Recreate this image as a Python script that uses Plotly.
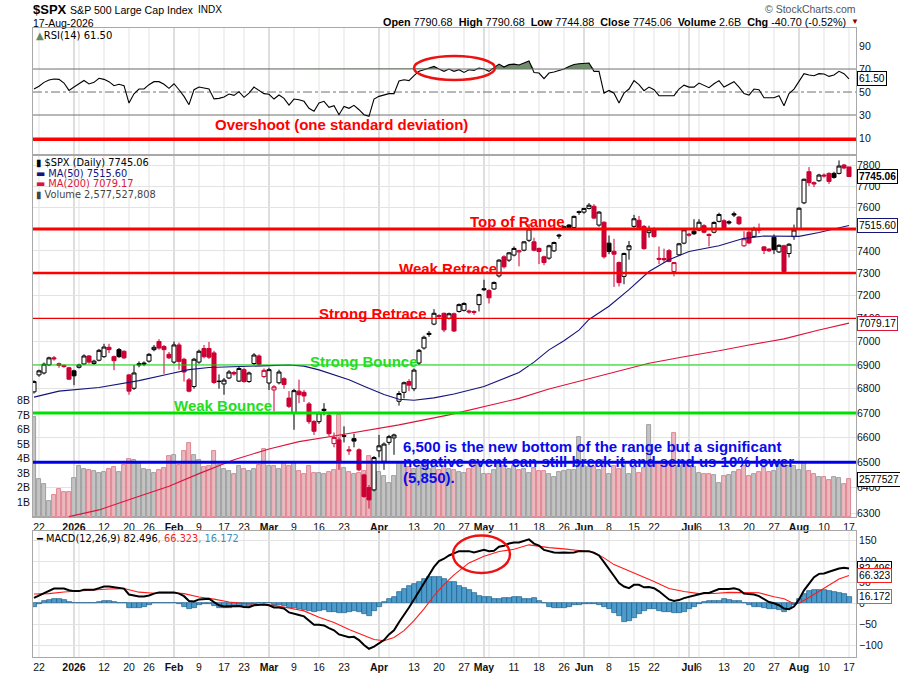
import math
import pandas as pd
import plotly.graph_objects as go

# ---------------- data ----------------
HOLIDAYS = ["2025-12-25", "2026-01-01", "2026-01-19", "2026-02-16",
            "2026-04-03", "2026-05-25", "2026-06-19", "2026-07-03"]
DATES = [d.strftime("%Y-%m-%d") for d in pd.bdate_range("2025-12-19", "2026-08-17")
         if d.strftime("%Y-%m-%d") not in HOLIDAYS]

OPEN = [6787, 6858, 6866, 6900, 6930, 6905, 6898, 6888, 6875, 6890,
        6904, 6938, 6906, 6920, 6935, 6975, 6935, 6965, 6958, 6858,
        6802, 6905, 6908, 6916, 6965, 7000, 6978, 6945, 6912, 6985,
        6924, 6837, 6809, 6912, 6970, 6970, 6951, 6832, 6820, 6845,
        6868, 6832, 6880, 6830, 6906, 6938, 6851, 6824, 6795, 6825,
        6842, 6761, 6700, 6790, 6785, 6737, 6665, 6664, 6715, 6690,
        6575, 6590, 6608, 6550, 6595, 6550, 6450, 6400, 6391, 6546,
        6504, 6580, 6598, 6748, 6785, 6830, 6800, 6908, 6972, 7035,
        7075, 7112, 7122, 7100, 7120, 7130, 7135, 7132, 7130, 7160,
        7230, 7222, 7229, 7287, 7373, 7358, 7381, 7395, 7403, 7448,
        7441, 7411, 7373, 7367, 7400, 7472, 7510, 7518, 7507, 7580,
        7578, 7595, 7605, 7518, 7531, 7435, 7398, 7347, 7285, 7405,
        7512, 7540, 7512, 7483, 7502, 7366, 7365, 7401, 7307, 7382,
        7435, 7476, 7490, 7495, 7515, 7475, 7485, 7535, 7538, 7533,
        7570, 7555, 7423, 7485, 7466, 7500, 7418, 7408, 7462, 7395,
        7423, 7388, 7465, 7500, 7621, 7768, 7716, 7725, 7752, 7760,
        7760, 7760, 7800, 7790.68]
HIGH = [6835, 6880, 6910, 6935, 6938, 6910, 6902, 6892, 6880, 6905,
        6945, 6942, 6922, 6968, 6990, 6990, 6940, 6972, 6962, 6862,
        6900, 6915, 6915, 6950, 6985, 7010, 6985, 6955, 7000, 6995,
        6930, 6845, 6930, 6965, 6985, 6998, 6960, 6860, 6845, 6878,
        6875, 6892, 6888, 6872, 6950, 6945, 6885, 6888, 6815, 6880,
        6848, 6790, 6800, 6838, 6795, 6745, 6670, 6705, 6740, 6700,
        6620, 6600, 6645, 6565, 6615, 6556, 6455, 6410, 6525, 6610,
        6580, 6610, 6615, 6790, 6830, 6840, 6885, 6968, 7025, 7045,
        7140, 7118, 7125, 7125, 7125, 7165, 7170, 7138, 7135, 7208,
        7270, 7228, 7262, 7362, 7380, 7395, 7420, 7405, 7445, 7522,
        7460, 7415, 7378, 7428, 7442, 7478, 7515, 7522, 7562, 7585,
        7598, 7620, 7615, 7582, 7535, 7470, 7455, 7352, 7392, 7445,
        7565, 7560, 7518, 7515, 7508, 7420, 7410, 7408, 7350, 7436,
        7500, 7482, 7545, 7545, 7522, 7480, 7535, 7575, 7545, 7540,
        7580, 7560, 7490, 7492, 7510, 7525, 7422, 7412, 7475, 7430,
        7428, 7435, 7520, 7600, 7735, 7790, 7722, 7758, 7760, 7765,
        7768, 7822, 7805, 7790.68]
LOW = [6780, 6850, 6860, 6895, 6918, 6888, 6888, 6836, 6815, 6885,
       6900, 6905, 6900, 6915, 6930, 6950, 6878, 6930, 6925, 6775,
       6795, 6890, 6895, 6910, 6958, 6965, 6862, 6925, 6905, 6880,
       6830, 6785, 6800, 6905, 6928, 6925, 6820, 6800, 6775, 6840,
       6855, 6828, 6825, 6825, 6898, 6895, 6845, 6795, 6706, 6818,
       6800, 6720, 6631, 6740, 6745, 6655, 6610, 6655, 6690, 6605,
       6560, 6470, 6580, 6530, 6560, 6465, 6360, 6318, 6385, 6520,
       6470, 6570, 6530, 6730, 6760, 6790, 6790, 6900, 6965, 7020,
       7070, 7100, 7040, 7095, 7040, 7125, 7130, 7120, 7115, 7130,
       7220, 7165, 7225, 7280, 7320, 7350, 7375, 7330, 7398, 7440,
       7398, 7340, 7335, 7360, 7395, 7455, 7500, 7500, 7500, 7565,
       7570, 7590, 7545, 7510, 7365, 7385, 7238, 7240, 7250, 7360,
       7505, 7500, 7405, 7460, 7460, 7340, 7345, 7348, 7285, 7378,
       7430, 7465, 7472, 7490, 7480, 7420, 7480, 7530, 7495, 7520,
       7555, 7518, 7418, 7430, 7460, 7480, 7385, 7395, 7385, 7390,
       7305, 7370, 7450, 7495, 7615, 7700, 7695, 7720, 7740, 7710,
       7735, 7755, 7780, 7744.88]
CLOSE = [6830, 6875, 6903, 6930, 6926, 6898, 6893, 6840, 6854, 6900,
         6938, 6912, 6916, 6962, 6976, 6965, 6918, 6935, 6930, 6790,
         6866, 6900, 6904, 6945, 6975, 6972, 6965, 6930, 6985, 6915,
         6870, 6790, 6924, 6958, 6935, 6933, 6826, 6830, 6836, 6870,
         6862, 6885, 6830, 6866, 6942, 6902, 6877, 6880, 6808, 6870,
         6818, 6727, 6792, 6775, 6770, 6664, 6625, 6700, 6710, 6615,
         6600, 6500, 6605, 6546, 6585, 6470, 6365, 6352, 6519, 6566,
         6573, 6603, 6610, 6780, 6825, 6815, 6878, 6962, 7018, 7030,
         7122, 7108, 7050, 7120, 7045, 7160, 7165, 7128, 7126, 7204,
         7226, 7190, 7258, 7358, 7328, 7391, 7411, 7400, 7441, 7500,
         7403, 7397, 7347, 7423, 7438, 7468, 7505, 7507, 7558, 7576,
         7595, 7610, 7550, 7578, 7373, 7397, 7385, 7257, 7388, 7423,
         7547, 7505, 7410, 7496, 7465, 7362, 7360, 7352, 7347, 7432,
         7496, 7472, 7478, 7531, 7485, 7470, 7530, 7567, 7502, 7528,
         7565, 7524, 7455, 7436, 7500, 7495, 7402, 7400, 7405, 7425,
         7307, 7430, 7495, 7596, 7732, 7716, 7710, 7752, 7748, 7722,
         7741, 7795, 7785.76, 7745.06]
VOLUME_B = [6.85, 2.6, 2.28, 1.12, 1.53, 1.92, 1.71, 1.71, 2.67, 3.47,
            3.3, 3.25, 3.15, 3.03, 3.07, 3.3, 3.42, 3.07, 3.58, 3.97,
            3.92, 3.74, 3.3, 3.2, 3.03, 3.25, 3.35, 4.15, 4.27, 3.58,
            4.5, 5.07, 4.27, 3.92, 3.42, 3.47, 4.5, 3.58, 3.3, 3.15,
            2.97, 3.47, 3.3, 3.15, 3.3, 3.58, 4.65, 3.47, 3.51, 3.3,
            3.7, 3.51, 3.7, 3.15, 2.97, 3.51, 3.03, 3.03, 2.97, 3.07,
            3.25, 7.0, 3.35, 3.07, 2.97, 3.03, 3.15, 4.15, 3.7, 3.07,
            2.8, 2.33, 2.8, 3.8, 3.8, 3.4, 3.3, 3.5, 3.6, 3.3,
            3.4, 3.2, 3.5, 3.3, 3.2, 3.07, 3.03, 3.3, 3.92, 3.58,
            2.93, 2.97, 3.25, 3.7, 3.47, 3.3, 3.47, 3.25, 3.3, 3.03,
            3.35, 3.15, 3.15, 2.97, 2.74, 3.07, 3.15, 3.2, 3.25, 5.48,
            3.47, 3.42, 3.42, 3.25, 3.92, 2.97, 3.51, 3.3, 3.8, 2.97,
            3.35, 3.03, 3.35, 6.32, 3.8, 3.7, 3.74, 3.8, 5.75, 3.51,
            3.74, 3.47, 3.42, 3.03, 2.97, 2.93, 2.86, 2.33, 2.8, 2.86,
            3.07, 3.2, 3.47, 2.8, 2.93, 3.07, 3.35, 3.07, 3.15, 3.7,
            3.74, 3.51, 3.47, 3.25, 3.8, 3.15, 2.97, 2.74, 2.74, 2.56,
            2.74, 2.67, 2.28, 2.577527808]
RSI14 = [52.6, 55, 58.4, 60.5, 61.3, 61, 57.8, 51.4, 54.3, 57,
         60, 57, 58.4, 62, 61, 59, 55.5, 56.7, 55.5, 40.4,
         48.5, 52.6, 52.6, 56.4, 59, 59, 56.7, 53.2, 57.2, 52,
         46.2, 39, 52, 54.3, 53.5, 52.6, 44, 44.5, 45.7, 48.3,
         47.1, 50.3, 45.4, 49.1, 54.3, 51.2, 48.6, 48, 43.9, 47.4,
         44.5, 38.7, 43.9, 43.3, 41.9, 35.8, 33.2, 40.4, 41.9, 36.7,
         38.1, 30.3, 37.5, 35.8, 38.4, 34.6, 30.3, 28.8, 43.9, 46.2,
         47.1, 48.6, 48.6, 59.6, 60.7, 59.9, 64.2, 68, 69.4, 70.6,
         72.3, 70, 68, 70, 68, 69.4, 67, 69.4, 68.8, 70.9,
         70, 68, 70.9, 74.3, 71.7, 73.8, 74.3, 73.5, 75.2, 77,
         67, 66.5, 61.6, 66.5, 67.4, 68.8, 70, 72.3, 74, 74.6,
         74.6, 75.2, 68, 68, 49, 51.4, 49, 40.4, 49, 52.6,
         59.9, 56.4, 51.2, 54.3, 52, 46.8, 46.8, 46.8, 46.8, 52.6,
         56, 54.3, 54.3, 57.8, 55.5, 53.8, 57.2, 59.9, 54.3, 56.4,
         59, 54.3, 48.6, 47.4, 52.6, 52, 45, 45, 45, 46.8,
         38.1, 48.6, 52.6, 59.3, 66, 64.8, 64.2, 66, 65.7, 63.6,
         64.8, 68, 66, 61.5]
MACD_LINE = [13, 18.5, 23, 30, 35, 35, 35, 31, 29, 29,
             32.5, 32.5, 32.5, 36, 40, 40, 38, 36, 35, 21,
             18, 16, 16, 18.5, 23, 26, 26, 26, 26, 23,
             17, 5.4, 4.6, 9.3, 9.3, 11, 3, -4.6, -7.7, -7.7,
             -7.7, -6.2, -8.5, -9.3, -4.6, -3, -3, -4.6, -10, -10,
             -12.4, -21.7, -24, -27.8, -31, -41, -51, -51, -52.6, -58.8,
             -64, -74, -77, -80.4, -79.7, -87.4, -99, -108, -103, -95,
             -87.4, -74, -64, -45, -28, -10, 9.3, 28.6, 48, 67,
             86.6, 100.5, 106, 113.7, 119, 124, 124, 124, 121, 124,
             127, 124, 125, 134.6, 137, 142, 144.6, 144.6, 148.5, 152,
             142, 137, 127, 124, 121, 120, 121, 120, 121, 124,
             124, 124, 120, 113.7, 98, 80, 65, 48, 40, 36,
             44, 44, 38, 38.7, 36, 28.6, 18.6, 9.3, 5.4, 7.7,
             12.4, 15.5, 18.6, 23, 24.7, 24.7, 28.6, 34, 34, 34,
             36, 32.5, 23, 21.7, 21, 17, 9.3, 3, 0, -4.6,
             -12.4, -14, -7.7, 9.3, 31, 48, 62, 70, 71, 75,
             79, 82.8, 84.3, 82.496]
MACD_HIST = [-8, -2, 5, 8.5, 9.3, 9.3, 8.5, 3, 0, 0,
             1.5, 1.5, 1.5, 3, 6, 6, 3, 1.5, 0, -10,
             -12, -10, -8, -4.6, 0, 1.5, 1.5, 0, 1.5, -2,
             -8, -14, -10, -4.6, -1.5, -1.5, -6, -10, -12, -10,
             -8, -6, -8, -8, -2, 1.5, 1.5, 0, -4.6, -3,
             -6, -10, -12, -14, -15.5, -17.8, -20, -18.6, -17, -20,
             -21.7, -24, -23, -20, -18.6, -20, -25.5, -29.4, -17.8, -8,
             3, 9.3, 15.5, 26, 34, 40, 46.4, 51.8, 57, 62,
             63.4, 62, 58.8, 51.8, 51, 40, 36, 32.5, 24.7, 17,
             15.5, 15.5, 11, 9.3, 13, 13, 15.5, 15.5, 11, 11,
             12.4, 6, 0, -8, -10, -10, -10, -8, -4.6, -3,
             -2.3, -1.5, -1.5, -3, -8, -14, -24, -31, -45, -41,
             -35.6, -25.5, -17.8, -14, -14, -17.8, -20, -21.7, -24, -24,
             -20, -14, -8, -2.3, 3, 4.6, 4.6, 6, 9.3, 7.7,
             6, 6, 1.5, -4.6, -8, -8, -10, -12.4, -14, -15.5,
             -21.7, -14, -4.6, 9.3, 23, 28.6, 31, 32.5, 32.5, 28.6,
             26, 24.7, 21, 16.172]
SIGNAL_DATES = ["2025-12-19", "2025-12-24", "2025-12-30", "2026-01-05", "2026-01-08", "2026-01-13",
                "2026-01-16", "2026-01-22", "2026-01-27", "2026-01-30", "2026-02-04", "2026-02-09",
                "2026-02-12", "2026-02-18", "2026-02-23", "2026-02-26", "2026-03-03", "2026-03-06",
                "2026-03-11", "2026-03-16", "2026-03-19", "2026-03-24", "2026-03-27", "2026-03-31",
                "2026-04-02", "2026-04-07", "2026-04-09", "2026-04-13", "2026-04-15", "2026-04-17",
                "2026-04-21", "2026-04-23", "2026-04-28", "2026-05-01", "2026-05-06", "2026-05-11",
                "2026-05-14", "2026-05-18", "2026-05-20", "2026-05-26", "2026-05-29", "2026-06-03",
                "2026-06-05", "2026-06-09", "2026-06-11", "2026-06-16", "2026-06-22", "2026-06-25",
                "2026-06-30", "2026-07-06", "2026-07-09", "2026-07-14", "2026-07-17", "2026-07-22",
                "2026-07-27", "2026-07-29", "2026-07-31", "2026-08-03", "2026-08-05", "2026-08-10",
                "2026-08-13", "2026-08-17"]
SIGNAL = [22, 23, 27, 29.5, 31, 34, 35, 26.5, 24, 25.5, 23, 15,
          10, 3, -0.3, -3.5, -5, -11, -18, -33, -45.5, -62, -76, -86,
          -89, -81, -65, -41, -13, 18, 45, 67.5, 96, 112, 123, 128.5,
          139, 135, 132.5, 129.5, 126, 121.5, 108, 92, 82, 67, 52, 35,
          28, 23, 23.5, 26, 26, 25, 15.5, 11, -1, 0, 14, 36,
          58, 66.323]
MA50_DATES = ["2025-12-19", "2025-12-29", "2026-01-09", "2026-01-22", "2026-01-30", "2026-02-05",
              "2026-02-11", "2026-02-19", "2026-03-02", "2026-03-06", "2026-03-11", "2026-03-16",
              "2026-03-19", "2026-03-24", "2026-03-27", "2026-04-02", "2026-04-08", "2026-04-13",
              "2026-04-17", "2026-04-23", "2026-05-01", "2026-05-12", "2026-05-15", "2026-05-20",
              "2026-05-26", "2026-05-29", "2026-06-02", "2026-06-08", "2026-06-12", "2026-06-18",
              "2026-06-25", "2026-07-01", "2026-07-10", "2026-07-17", "2026-07-23", "2026-07-29",
              "2026-08-03", "2026-08-07", "2026-08-12", "2026-08-17"]
MA50 = [6765, 6790, 6805, 6834, 6862, 6880, 6889, 6891, 6897, 6900, 6895, 6879,
        6860, 6838, 6810, 6776, 6756, 6752, 6762, 6778, 6809, 6868, 6912, 6964,
        7003, 7049, 7095, 7153, 7226, 7307, 7360, 7397, 7423, 7457, 7468, 7465,
        7466, 7484, 7500, 7515.60]
MA200_DATES = ["2025-12-31", "2026-01-09", "2026-01-21", "2026-01-30", "2026-02-09", "2026-02-19",
               "2026-03-02", "2026-03-10", "2026-03-19", "2026-03-30", "2026-04-08", "2026-04-22",
               "2026-05-01", "2026-05-12", "2026-05-20", "2026-06-01", "2026-06-10", "2026-06-18",
               "2026-06-30", "2026-07-10", "2026-07-20", "2026-07-29", "2026-08-07", "2026-08-17"]
MA200 = [6287, 6313, 6359, 6405, 6455, 6510, 6553, 6583, 6606, 6631, 6651, 6692,
         6727, 6760, 6799, 6837, 6872, 6907, 6935, 6960, 6985, 7011, 7049, 7079.17]

LEVELS = [7500, 7300, 7100, 6900, 6700, 6500]
PRICE_TICKS = [6300, 6400, 6500, 6600, 6700, 6800, 6900, 7000, 7100, 7200, 7300, 7400, 7500, 7600, 7700, 7800]
PRICE_TICK_TEXT = ["6300", "6400", "6500", "6600", "6700", "6800", "6900", "7000",
                   "7100", "7200", "7300", "7400", "7500", "7600", "7700", "7800"]
VOL_TICKS = [1e9, 2e9, 3e9, 4e9, 5e9, 6e9, 7e9, 8e9]
VOL_TICK_TEXT = ["1B", "2B", "3B", "4B", "5B", "6B", "7B", "8B"]
RSI_TICKS = [10, 30, 50, 70, 90]
MACD_TICKS = [-100, -50, 0, 50, 100, 150]
X_TICK_DATES = ["2025-12-22", "2026-01-02", "2026-01-05", "2026-01-12", "2026-01-20", "2026-01-26",
                "2026-02-02", "2026-02-09", "2026-02-17", "2026-02-23", "2026-03-02", "2026-03-09",
                "2026-03-16", "2026-03-23", "2026-04-01", "2026-04-06", "2026-04-13", "2026-04-20",
                "2026-04-27", "2026-05-01", "2026-05-04", "2026-05-11", "2026-05-18", "2026-05-26",
                "2026-06-01", "2026-06-08", "2026-06-15", "2026-06-22", "2026-06-29", "2026-07-01",
                "2026-07-06", "2026-07-13", "2026-07-20", "2026-07-27", "2026-08-03", "2026-08-10",
                "2026-08-17"]
X_TICK_TEXT = ["22", "<b>2026</b>", "", "12", "20", "26", "<b>Feb</b>", "9", "17", "23", "<b>Mar</b>", "9",
               "16", "23", "<b>Apr</b>", "", "13", "20", "27", "<b>May</b>", "", "11", "18", "26",
               "<b>Jun</b>", "8", "15", "22", "", "<b>Jul</b>", "6", "13", "20", "27", "<b>Aug</b>", "10",
               "17"]
MONTH_DATES = ["2026-01-02", "2026-02-02", "2026-03-02", "2026-04-01",
               "2026-05-01", "2026-06-01", "2026-07-01", "2026-08-03"]

N = len(DATES)
assert all(len(a) == N for a in (OPEN, HIGH, LOW, CLOSE, VOLUME_B, RSI14, MACD_LINE, MACD_HIST))

# ---------------- layout helpers ----------------
W, H = 900, 673
ML, MR, MT, MB = 33, 44, 28, 16
PW, PH = W - ML - MR, H - MT - MB


def fx(px):
    return (px - ML) / PW


def fy(py):
    return (MT + PH - py) / PH


AXF = "Liberation Sans, Arial, sans-serif"
LGF = "DejaVu Sans, Verdana, sans-serif"
GRID = "#e3e3e3"
BORDER = "#a8a8a8"
RED_C = "#cc0033"
NAVY = "#14147a"
CRIMSON = "#dc143c"

fig = go.Figure()

# ---- RSI panel ----
fig.add_trace(go.Scatter(x=DATES, y=[70] * N, mode="lines", line=dict(width=0, color="rgba(0,0,0,0)"),
                         xaxis="x", yaxis="y", hoverinfo="skip", showlegend=False))
fig.add_trace(go.Scatter(x=DATES, y=[max(v, 70) for v in RSI14], mode="lines",
                         line=dict(width=0, color="rgba(0,0,0,0)"), fill="tonexty",
                         fillcolor="#6f8f6a", xaxis="x", yaxis="y", hoverinfo="skip", showlegend=False))
fig.add_trace(go.Scatter(x=DATES, y=RSI14, mode="lines", line=dict(width=1.1, color="black"),
                         xaxis="x", yaxis="y", hoverinfo="skip", showlegend=False))

# ---- Volume (base axis of price panel) ----
vol_fill, vol_line = [], []
for i in range(N):
    down = i > 0 and CLOSE[i] < CLOSE[i - 1]
    vol_fill.append("#e9b9be" if down else "#c3c3c3")
    vol_line.append("#d9707f" if down else "#8e8e8e")
fig.add_trace(go.Bar(x=DATES, y=[v * 1e9 for v in VOLUME_B], width=0.82,
                     marker=dict(color=vol_fill, line=dict(color=vol_line, width=0.8)),
                     xaxis="x2", yaxis="y2", hoverinfo="skip", showlegend=False))

# ---- Candles ----
up_idx = [i for i in range(N) if i == 0 or CLOSE[i] >= CLOSE[i - 1]]
dn_idx = [i for i in range(N) if i > 0 and CLOSE[i] < CLOSE[i - 1]]


def sub(arr, idx):
    return [arr[i] for i in idx]


fig.add_trace(go.Candlestick(x=sub(DATES, up_idx), open=sub(OPEN, up_idx), high=sub(HIGH, up_idx),
                             low=sub(LOW, up_idx), close=sub(CLOSE, up_idx),
                             increasing=dict(line=dict(color="black", width=1), fillcolor="white"),
                             decreasing=dict(line=dict(color="black", width=1), fillcolor="black"),
                             xaxis="x2", yaxis="y3", hoverinfo="skip", showlegend=False))
fig.add_trace(go.Candlestick(x=sub(DATES, dn_idx), open=sub(OPEN, dn_idx), high=sub(HIGH, dn_idx),
                             low=sub(LOW, dn_idx), close=sub(CLOSE, dn_idx),
                             increasing=dict(line=dict(color=RED_C, width=1), fillcolor="white"),
                             decreasing=dict(line=dict(color=RED_C, width=1), fillcolor=RED_C),
                             xaxis="x2", yaxis="y3", hoverinfo="skip", showlegend=False))
fig.add_trace(go.Scatter(x=MA50_DATES, y=MA50, mode="lines", line=dict(color=NAVY, width=1.1),
                         xaxis="x2", yaxis="y3", hoverinfo="skip", showlegend=False))
fig.add_trace(go.Scatter(x=MA200_DATES, y=MA200, mode="lines", line=dict(color=CRIMSON, width=1.1),
                         xaxis="x2", yaxis="y3", hoverinfo="skip", showlegend=False))

# ---- MACD ----
fig.add_trace(go.Bar(x=DATES, y=MACD_HIST, width=1.0,
                     marker=dict(color="#4b9bcb", line=dict(color="#1f5f8b", width=0.7)),
                     xaxis="x3", yaxis="y4", hoverinfo="skip", showlegend=False))
fig.add_trace(go.Scatter(x=SIGNAL_DATES, y=SIGNAL, mode="lines", line=dict(color="#ff1a1a", width=1.1),
                         xaxis="x3", yaxis="y4", hoverinfo="skip", showlegend=False))
fig.add_trace(go.Scatter(x=DATES, y=MACD_LINE, mode="lines", line=dict(color="black", width=2),
                         xaxis="x3", yaxis="y4", hoverinfo="skip", showlegend=False))

# ---------------- axes ----------------
common_x = dict(type="category", categoryorder="array", categoryarray=DATES,
                range=[-0.2, N + 0.4], tickvals=X_TICK_DATES, ticktext=X_TICK_TEXT,
                showgrid=False, ticks="", showline=True, automargin=False,
                linecolor=BORDER, mirror=True, zeroline=False, fixedrange=True, tickangle=0,
                tickfont=dict(family=AXF, size=10.5, color="#111"))
yfont = dict(family=AXF, size=10.5, color="#111")
D_RSI = [fy(155), 1.0]
D_PRICE = [fy(517), fy(155)]
D_MACD = [0.0, fy(531)]

fig.update_layout(
    width=W, height=H, autosize=False,
    margin=dict(l=ML, r=MR, t=MT, b=MB, autoexpand=False),
    paper_bgcolor="white", plot_bgcolor="white",
    showlegend=False, hovermode=False, boxmode="overlay", boxgap=0.1, boxgroupgap=0.1, bargap=0,
    xaxis=dict(common_x, anchor="y", showticklabels=False),
    xaxis2=dict(common_x, anchor="y2", showticklabels=True, rangeslider=dict(visible=False)),
    xaxis3=dict(common_x, anchor="y4", showticklabels=True, rangeslider=dict(visible=False)),
    yaxis=dict(domain=D_RSI, range=[-4.8, 105.7], side="right", tickvals=RSI_TICKS,
               showgrid=False, zeroline=False, ticks="", showline=True, mirror=True, automargin=False,
               linecolor=BORDER, anchor="x", tickfont=yfont, fixedrange=True),
    yaxis2=dict(domain=D_PRICE, range=[0, 24.8e9], side="left", tickvals=VOL_TICKS,
                ticktext=VOL_TICK_TEXT, showgrid=False, zeroline=False, ticks="", automargin=False,
                showline=True, mirror=True, linecolor=BORDER, anchor="x2", tickfont=yfont,
                fixedrange=True),
    yaxis3=dict(overlaying="y2", side="right", type="log",
                range=[math.log10(6285.6), math.log10(7848)], tickvals=PRICE_TICKS,
                ticktext=PRICE_TICK_TEXT, showgrid=True, gridcolor=GRID, zeroline=False,
                ticks="", showline=False, anchor="x2", tickfont=yfont, fixedrange=True,
                automargin=False),
    yaxis4=dict(domain=D_MACD, range=[-127.6, 171.9], side="right", tickvals=MACD_TICKS,
                showgrid=True, gridcolor=GRID, zeroline=False, ticks="", showline=True,
                mirror=True, linecolor=BORDER, anchor="x3", tickfont=yfont, fixedrange=True,
                automargin=False),
)

# ---------------- shapes ----------------
shapes = []
panels = (("x", D_RSI), ("x2", D_PRICE), ("x3", D_MACD))
month_set = set(MONTH_DATES)
for d in sorted(set(X_TICK_DATES) | month_set):
    xi = DATES.index(d)
    col = "#bdbdbd" if d in month_set else GRID
    for xr, dom in panels:
        shapes.append(dict(type="line", xref=xr, yref="paper", x0=xi, x1=xi, y0=dom[0], y1=dom[1],
                           line=dict(color=col, width=1), layer="below"))
# RSI reference lines
for lvl, dash in ((70, "solid"), (30, "solid"), (50, "dashdot")):
    shapes.append(dict(type="line", xref="paper", yref="y", x0=0, x1=1, y0=lvl, y1=lvl,
                       line=dict(color="#707070", width=1, dash=dash),
                       layer="above" if lvl == 70 else "below"))
# Overshoot line
shapes.append(dict(type="line", xref="paper", yref="y", x0=0, x1=1, y0=8.9, y1=8.9,
                   line=dict(color="#ff0000", width=3.5)))
# Price levels
level_style = [("#ff0000", 3), ("#ff0000", 2.6), ("#ee0000", 1.1),
               ("#00e000", 1.1), ("#00e000", 3), ("#0000e6", 3)]
for lvl, (col, wd) in zip(LEVELS, level_style):
    shapes.append(dict(type="line", xref="paper", yref="y3", x0=0, x1=1, y0=lvl, y1=lvl,
                       line=dict(color=col, width=wd)))
# Ellipses
shapes.append(dict(type="circle", xref="x", yref="y", x0=76, x1=92.2, y0=60.4, y1=81.3,
                   line=dict(color="#ee1111", width=2.5)))
shapes.append(dict(type="circle", xref="x3", yref="y4", x0=83.8, x1=95.2, y0=72, y1=161,
                   line=dict(color="#ee1111", width=2.5)))
fig.update_layout(shapes=shapes)

# ---------------- annotations ----------------
ann = []


def txt(text, px, py, size, color="#000", family=AXF, xanchor="left"):
    ann.append(dict(text=text, x=fx(px), y=fy(py), xref="paper", yref="paper",
                    xanchor=xanchor, yanchor="middle", showarrow=False,
                    font=dict(family=family, size=size, color=color)))


# header
txt("<b>$SPX</b>", 31, 9, 13)
txt("S&P 500 Large Cap Index", 68, 9.5, 10.6)
txt("INDX", 196, 9.5, 10)
txt("17-Aug-2026", 31, 22.5, 10.5)
txt("<b>Open</b> 7790.68  <b>High</b> 7790.68  <b>Low</b> 7744.88  <b>Close</b> 7745.06  "
    "<b>Volume</b> 2.6B  <b>Chg</b> -40.70 (-0.52%)", 848, 22, 10.8, xanchor="right")
txt("▼", 849, 21.5, 8, color="#8b0000")
txt("© StockCharts.com", 858, 9, 10.5, color="#555", xanchor="right")

# panel legends
txt("<span style='color:#5f8a5f'>▲</span>RSI(14) 61.50", 34, 35, 10, family=LGF)
txt("▮ $SPX (Daily) 7745.06", 34, 162.5, 9.8, family=LGF)
txt("<span style='color:%s'>▬ MA(50) 7515.60</span>" % NAVY, 34, 173.3, 9.8, family=LGF)
txt("<span style='color:%s'>▬ MA(200) 7079.17</span>" % CRIMSON, 34, 184, 9.8, family=LGF)
txt("<span style='color:#444'>▮ Volume 2,577,527,808</span>", 34, 194.3, 9.8, family=LGF)
txt("<b>━</b> MACD(12,26,9) 82.496<span style='color:#ff1a1a'>, 66.323</span>"
    "<span style='color:#3a8fc0'>, 16.172</span>", 34, 538.3, 9.8, family=LGF)

# chart notes
RED_T, GREEN_T, BLUE_T = "#ff0000", "#22dd22", "#0a0aeb"
txt("<b>Overshoot (one standard deviation)</b>", 213, 124, 15, color=RED_T)
txt("<b>Top of Range</b>", 468, 221.5, 15, color=RED_T)
txt("<b>Weak Retrace</b>", 397, 268, 15, color=RED_T)
txt("<b>Strong Retrace</b>", 317, 313, 15, color=RED_T)
txt("<b>Strong Bounce</b>", 308, 361.5, 15, color=GREEN_T)
txt("<b>Weak Bounce</b>", 172, 406, 15, color=GREEN_T)
txt("<b>6,500 is the new bottom of the range but a significant</b>", 401, 446, 15, color=BLUE_T)
txt("<b>negative event can still break it and send us 10% lower</b>", 401, 461.5, 15, color=BLUE_T)
txt("<b>(5,850).</b>", 401, 477.5, 15, color=BLUE_T)


def tag(text, yval, yref, border, bold=False):
    ann.append(dict(text=("<b>%s</b>" % text) if bold else text, x=fx(857), y=yval,
                    xref="paper", yref=yref, xanchor="left", yanchor="middle", showarrow=False,
                    font=dict(family=AXF, size=10.2, color="black"), bgcolor="white",
                    bordercolor=border, borderwidth=1, borderpad=1))


tag("61.50", RSI14[-1], "y", "black")
tag("7745.06", math.log10(CLOSE[-1]), "y3", "black", bold=True)
tag("7515.60", math.log10(MA50[-1]), "y3", NAVY)
tag("7079.17", math.log10(MA200[-1]), "y3", CRIMSON)
tag("2577527", VOLUME_B[-1] * 1e9, "y2", "black")
tag("82.496", MACD_LINE[-1], "y4", "black")
tag("66.323", SIGNAL[-1], "y4", "#ff1a1a")
tag("16.172", MACD_HIST[-1], "y4", "#3a8fc0")

fig.update_layout(annotations=ann)
fig.write_html("out.html", config={"displayModeBar": False},
               post_script="document.body.style.margin='0px';")
